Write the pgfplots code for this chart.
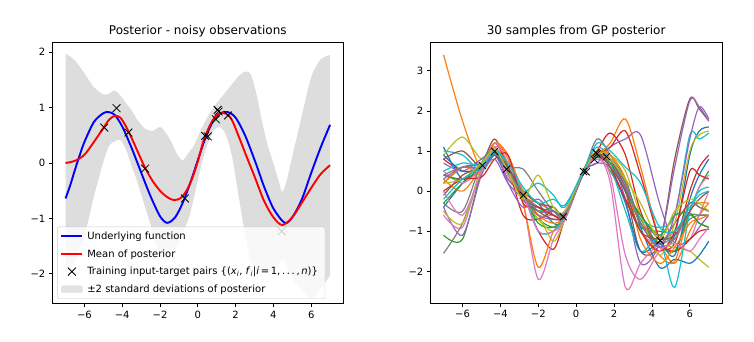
\documentclass[border=0pt]{standalone}
\usepackage{pgfplots}
\pgfplotsset{compat=1.18}
\usepackage{pgfplotstable}
\usepgfplotslibrary{fillbetween}
\usepackage{fontspec}
\setmainfont{DejaVu Sans}

\definecolor{c0}{RGB}{31,119,180}
\definecolor{c1}{RGB}{255,127,14}
\definecolor{c2}{RGB}{44,160,44}
\definecolor{c3}{RGB}{214,39,40}
\definecolor{c4}{RGB}{148,103,189}
\definecolor{c5}{RGB}{140,86,75}
\definecolor{c6}{RGB}{227,119,194}
\definecolor{c7}{RGB}{127,127,127}
\definecolor{c8}{RGB}{188,189,34}
\definecolor{c9}{RGB}{23,190,207}
\definecolor{bandgray}{RGB}{221,221,221}
\definecolor{legedge}{RGB}{204,204,204}
\definecolor{mblue}{RGB}{0,0,255}
\definecolor{mred}{RGB}{255,0,0}

% posterior samples: one row per sample
\pgfplotstableread{
name p0 p1 p2 p3 p4 p5 p6 p7 p8 p9 p10 p11 p12 p13 p14 p15 p16 p17 p18
x   -7 -6 -5 -4.3 -3.6 -2.8 -2 -1.2 -0.6 0.4 1.1 1.8 2.6 3.4 4.4 5.2 6 6.5 7
b1   1.1 0.3 0.6 0.95 0.5 -0.2 -0.4 -0.6 -0.6 0.5 0.9 0.7 0.1 -0.8 -1.4 -1.1 0.9 1.5 1.6
b2  -0.4 0.2 0.7 1.0 0.6 0.0 -0.3 -0.8 -0.7 0.5 1.0 0.8 0.3 -0.9 -1.9 -1.7 -1.8 -1.6 -1.25
b3   0.9 0.5 0.55 0.9 0.45 -0.1 -0.5 -0.5 -0.55 0.45 0.85 0.6 -0.3 -1.5 -1.3 -1.6 -0.2 0.4 0.8
o1   3.4 1.75 0.55 1.05 0.7 -0.1 -0.3 -0.5 -0.6 0.5 0.9 1.2 1.8 0.6 -1.2 -1.8 -1.0 -0.6 -0.3
o2   0.3 0.0 0.6 1.2 0.8 -0.3 -1.9 -1.0 -0.7 0.5 0.9 0.7 0.0 -1.0 -1.6 -1.75 -0.5 -0.3 -0.3
o3   0.2 0.6 0.5 1.2 0.9 0.0 -0.6 -0.8 -0.6 0.55 1.0 0.9 0.3 -1.2 -1.8 -1.4 -0.8 -0.7 -0.6
g1  -1.1 -1.2 0.5 0.95 0.55 -0.2 -0.7 -0.9 -0.7 0.45 0.85 0.5 -0.2 -0.9 -1.0 -1.0 -0.6 -0.8 -0.9
g2  -0.3 0.2 0.6 1.0 0.6 -0.1 -0.8 -0.9 -0.6 0.5 0.9 0.8 0.2 -0.8 -1.3 -1.5 -0.5 0.1 0.5
g3   0.4 0.3 0.7 1.1 0.5 -0.2 -0.5 -0.4 -0.6 0.45 0.85 0.7 0.0 -0.6 -1.1 -0.6 -0.55 -0.8 -0.9
r1   0.4 0.3 0.5 0.9 0.3 -0.1 -1.0 -1.45 -0.7 0.5 1.0 1.45 0.9 -0.5 -1.4 -1.3 0.0 0.6 0.9
r2   0.8 0.5 0.6 1.2 0.6 -0.6 -0.7 -0.5 -0.6 0.5 0.9 1.1 1.5 0.4 -1.2 -1.5 -1.2 -1.0 -0.95
r3   0.0 0.3 0.35 0.8 0.9 -0.3 -0.4 -0.6 -0.65 0.5 0.9 0.6 -0.2 -1.0 -1.5 -1.0 0.5 0.4 0.3
p1  -0.4 -1.1 0.4 0.9 0.3 -0.1 -0.4 -0.5 -0.5 0.5 0.7 1.1 1.3 1.4 -0.3 -1.3 -1.2 -0.9 -0.6
p2   0.7 0.5 0.8 1.0 0.2 -0.4 -0.2 -0.6 -0.6 0.5 0.9 0.8 -0.2 -1.8 -1.3 0.6 2.25 2.1 1.75
p3   0.3 0.6 0.55 0.8 0.2 -0.2 -0.6 -0.7 -0.6 0.45 0.7 0.6 0.1 -0.8 -1.4 -0.6 1.3 2.1 1.8
br1  0.2 0.6 0.7 1.3 0.6 -0.1 -0.4 -0.6 -0.6 0.5 0.9 0.7 0.0 -1.5 -1.3 0.8 2.3 2.05 1.75
br2  0.8 1.0 0.6 1.0 0.6 0.0 -0.3 -0.4 -0.6 0.5 0.9 0.8 0.1 -0.8 -1.3 -0.8 -0.3 -0.4 -0.5
br3 -0.1 0.4 0.6 0.95 0.6 -0.1 -0.5 -0.7 -0.6 0.5 0.95 0.6 0.0 -1.0 -1.2 -1.1 -0.5 -0.2 0.0
pk1 -0.6 -0.9 0.6 1.1 0.9 -0.3 -2.2 -1.2 -0.7 0.5 0.9 0.7 0.0 -1.0 -1.4 -1.5 -1.2 -0.6 0.0
pk2  0.5 0.2 0.6 1.2 0.7 -0.2 -0.6 -0.6 -0.6 0.5 0.9 0.2 -2.4 -1.8 -1.3 -1.2 -0.5 0.1 0.4
pk3  0.0 -0.6 0.5 1.1 0.4 -0.1 -1.0 -1.0 -0.7 0.5 0.8 0.4 -1.6 -2.2 -1.5 -1.3 -1.5 -1.2 -0.9
gr1 -1.55 -0.8 0.5 1.0 0.6 0.55 0.0 -0.5 -0.6 0.5 1.3 0.9 0.2 -0.7 -1.3 -1.1 -0.7 -0.6 -0.6
gr2 -0.3 -0.5 0.7 1.0 0.5 -0.1 -0.4 -0.6 -0.6 0.45 0.85 0.7 0.0 -0.6 -1.2 -1.0 -0.6 -0.6 -0.6
gr3  0.4 0.6 0.6 0.95 0.5 -0.1 -0.5 -0.5 -0.6 0.5 0.95 0.8 0.2 -0.8 -1.1 -1.2 -0.3 -0.4 -0.5
ol1  0.9 1.35 0.8 1.0 0.4 -0.2 -0.6 -1.25 -0.7 0.5 0.9 0.9 0.2 -0.8 -1.3 -1.4 -1.5 -1.7 -1.9
ol2 -0.5 -0.8 0.6 1.0 0.6 -0.1 -0.7 -1.0 -0.6 0.5 0.95 0.9 0.5 -0.6 -1.6 -0.8 1.0 1.4 1.5
ol3  0.2 0.3 0.7 1.05 0.5 -0.2 0.4 -0.4 -0.5 0.5 0.95 0.8 0.3 -0.3 -1.2 -0.5 -0.2 -0.3 -0.5
cy1  1.0 0.9 0.5 0.9 0.6 0.0 0.2 -0.1 -0.4 0.55 1.1 0.8 0.0 -0.7 -0.9 -0.6 1.4 1.3 1.45
cy2  0.5 0.7 0.65 0.95 0.5 0.0 -1.0 -1.0 -0.6 0.5 0.9 0.6 -0.5 -1.5 -1.2 -2.4 -0.5 0.0 0.1
cy3 -0.2 0.3 0.6 1.0 0.7 0.1 -0.3 -0.2 -0.35 0.5 1.2 1.0 0.6 0.2 -0.9 -1.0 -0.4 -0.1 0.0
}\rawsamples
\pgfplotstabletranspose[colnames from=name]\samples\rawsamples

\pgfplotstableread{
x y
-4.95 0.64
-4.30 0.99
-3.67 0.55
-2.79 -0.10
-0.68 -0.64
0.39 0.49
0.53 0.48
0.96 0.79
1.05 0.96
1.10 0.93
1.60 0.86
4.44 -1.23
}\train

\pgfplotsset{
  myaxis/.style={
    scale only axis,
    anchor=south west,
    xmin=-7.7, xmax=7.7,
    tick align=outside,
    tick pos=left,
    major tick length=3.5pt,
    every tick/.style={black, line width=0.8pt},
    axis line style={line width=0.8pt, black},
    tick label style={font=\fontsize{10}{12}\selectfont},
    /pgf/number format/assume math mode=true,
    xtick={-6,-4,-2,0,2,4,6},
    xticklabels={−6,−4,−2,0,2,4,6},
    title style={font=\fontsize{12}{14}\selectfont, yshift=-4pt},
  },
}

\begin{document}
\begin{tikzpicture}
\path (0,0) rectangle (754pt,342pt);

% ---------------- left panel ----------------
\begin{axis}[myaxis,
  at={(52.3pt,38.3pt)}, width=291pt, height=261.4pt,
  ymin=-2.54, ymax=2.18,
  ytick={-2,-1,0,1,2},
  yticklabels={−2,−1,0,1,2},
  title={Posterior - noisy observations},
  legend cell align=left,
  legend image code/.code={\draw[mark repeat=2,mark phase=2,#1] plot coordinates {(0pt,0pt) (10.5pt,0pt) (21pt,0pt)};},
  legend style={at={(0.017,0.018)}, anchor=south west,
    font=\fontsize{10}{12}\selectfont,
    fill=white, fill opacity=0.8, text opacity=1, draw opacity=1,
    draw=legedge, rounded corners=2pt,
    row sep=7.5pt, inner xsep=3pt, inner ysep=4.5pt,
    nodes={inner xsep=4pt, inner ysep=0.5pt}},
]
\addplot[name path=up, draw=none, smooth, forget plot] coordinates {
(-7.0,1.98) (-6.5,1.85) (-6.0,1.62) (-5.5,1.37) (-5.0,1.24) (-4.7,1.25)
(-4.4,1.31) (-4.1,1.22) (-3.8,1.08) (-3.5,0.95) (-3.2,0.78) (-2.8,0.62)
(-2.4,0.58) (-2.0,0.65) (-1.7,0.55) (-1.4,0.38) (-1.1,0.16) (-0.8,0.05)
(-0.5,0.18) (-0.2,0.32) (0.2,0.62) (0.6,0.88) (1.0,1.08) (1.4,1.25)
(1.8,1.42) (2.2,1.58) (2.5,1.65) (2.8,1.60) (3.1,1.25) (3.4,0.75)
(3.7,0.32) (4.0,0.0) (4.3,-0.35) (4.47,-0.52) (4.7,-0.32) (5.0,0.12)
(5.5,0.85) (6.0,1.55) (6.5,1.87) (7.0,1.95)};
\addplot[name path=lo, draw=none, smooth, forget plot] coordinates {
(-7.0,-1.98) (-6.5,-1.77) (-6.0,-1.32) (-5.5,-0.61) (-5.0,0.02) (-4.7,0.31)
(-4.4,0.39) (-4.1,0.42) (-3.8,0.24) (-3.5,-0.05) (-3.2,-0.34) (-2.8,-0.78)
(-2.4,-1.22) (-2.0,-1.65) (-1.7,-1.75) (-1.4,-1.70) (-1.1,-1.50) (-0.8,-1.25)
(-0.5,-1.02) (-0.2,-0.62) (0.2,-0.02) (0.6,0.42) (1.0,0.64) (1.4,0.57)
(1.8,0.14) (2.2,-0.68) (2.5,-1.29) (2.8,-1.76) (3.1,-1.89) (3.4,-1.95)
(3.7,-1.96) (4.0,-1.96) (4.3,-1.83) (4.47,-1.72) (4.7,-1.84) (5.0,-2.08)
(5.5,-2.29) (6.0,-2.45) (6.5,-2.27) (7.0,-2.03)};
\addplot[fill=bandgray, draw=none, forget plot] fill between[of=up and lo];

\addplot[mblue, line width=1.9pt, smooth] coordinates {
(-7.0,-0.64) (-6.75,-0.40) (-6.5,-0.12) (-6.25,0.14) (-6.0,0.38) (-5.5,0.74)
(-5.0,0.90) (-4.72,0.92) (-4.4,0.87) (-4.0,0.66) (-3.5,0.27) (-3.0,-0.17)
(-2.5,-0.60) (-2.0,-0.96) (-1.62,-1.08) (-1.2,-0.98) (-0.8,-0.72) (-0.4,-0.36)
(0.0,0.05) (0.4,0.45) (0.8,0.75) (1.2,0.90) (1.58,0.92) (2.0,0.82)
(2.5,0.50) (3.0,0.06) (3.2,-0.13) (3.5,-0.42) (4.0,-0.82) (4.6,-1.08)
(5.0,-0.98) (5.5,-0.66) (6.0,-0.18) (6.5,0.28) (7.0,0.69)};
\addlegendentry{Underlying function}

\addplot[mred, line width=1.9pt, smooth] coordinates {
(-7.0,0.00) (-6.5,0.04) (-6.0,0.15) (-5.5,0.38) (-5.0,0.63) (-4.7,0.78)
(-4.4,0.85) (-4.1,0.82) (-3.8,0.66) (-3.5,0.45) (-3.2,0.22) (-2.8,-0.08)
(-2.4,-0.32) (-2.0,-0.50) (-1.6,-0.62) (-1.25,-0.67) (-0.9,-0.63) (-0.6,-0.50)
(-0.3,-0.28) (0.0,0.03) (0.3,0.40) (0.6,0.65) (0.9,0.83) (1.2,0.90)
(1.5,0.89) (1.8,0.78) (2.2,0.45) (2.6,0.10) (3.0,-0.24) (3.5,-0.68)
(4.0,-0.98) (4.47,-1.12) (5.0,-0.98) (5.5,-0.72) (6.0,-0.45) (6.5,-0.20)
(7.0,-0.04)};
\addlegendentry{Mean of posterior}

\addplot[only marks, mark=x, mark size=5.5pt, black, mark options={line width=0.8pt}]
  table[x=x, y=y] {\train};
\addlegendentry{Training input-target pairs \{(\textit{x}\textsubscript{\textit{i}}, \textit{f}\textsubscript{\textit{i}}|\textit{i}\,=\,1,\,.\,.\,.\,,\,\textit{n})\}}

\addlegendimage{legend image code/.code={\fill[bandgray] (0pt,-3.5pt) rectangle (21pt,3.5pt);}}
\addlegendentry{±2 standard deviations of posterior}
\end{axis}

% ---------------- right panel ----------------
\begin{axis}[myaxis,
  at={(430.3pt,38.6pt)}, width=291.7pt, height=260.6pt,
  ymin=-2.8, ymax=3.7,
  ytick={-2,-1,0,1,2,3},
  yticklabels={−2,−1,0,1,2,3},
  title={30 samples from GP posterior},
]
\pgfplotsset{every axis plot/.append style={line width=1.2pt, smooth}}
\addplot[c0] table[x=x, y=b1] {\samples};
\addplot[c1] table[x=x, y=o1] {\samples};
\addplot[c2] table[x=x, y=g1] {\samples};
\addplot[c3] table[x=x, y=r1] {\samples};
\addplot[c4] table[x=x, y=p1] {\samples};
\addplot[c5] table[x=x, y=br1] {\samples};
\addplot[c6] table[x=x, y=pk1] {\samples};
\addplot[c7] table[x=x, y=gr1] {\samples};
\addplot[c8] table[x=x, y=ol1] {\samples};
\addplot[c9] table[x=x, y=cy1] {\samples};
\addplot[c0] table[x=x, y=b2] {\samples};
\addplot[c1] table[x=x, y=o2] {\samples};
\addplot[c2] table[x=x, y=g2] {\samples};
\addplot[c3] table[x=x, y=r2] {\samples};
\addplot[c4] table[x=x, y=p2] {\samples};
\addplot[c5] table[x=x, y=br2] {\samples};
\addplot[c6] table[x=x, y=pk2] {\samples};
\addplot[c7] table[x=x, y=gr2] {\samples};
\addplot[c8] table[x=x, y=ol2] {\samples};
\addplot[c9] table[x=x, y=cy2] {\samples};
\addplot[c0] table[x=x, y=b3] {\samples};
\addplot[c1] table[x=x, y=o3] {\samples};
\addplot[c2] table[x=x, y=g3] {\samples};
\addplot[c3] table[x=x, y=r3] {\samples};
\addplot[c4] table[x=x, y=p3] {\samples};
\addplot[c5] table[x=x, y=br3] {\samples};
\addplot[c6] table[x=x, y=pk3] {\samples};
\addplot[c7] table[x=x, y=gr3] {\samples};
\addplot[c8] table[x=x, y=ol3] {\samples};
\addplot[c9] table[x=x, y=cy3] {\samples};
\addplot[only marks, mark=x, mark size=5pt, black, mark options={line width=0.8pt}]
  table[x=x, y=y] {\train};
\end{axis}
\end{tikzpicture}
\end{document}
